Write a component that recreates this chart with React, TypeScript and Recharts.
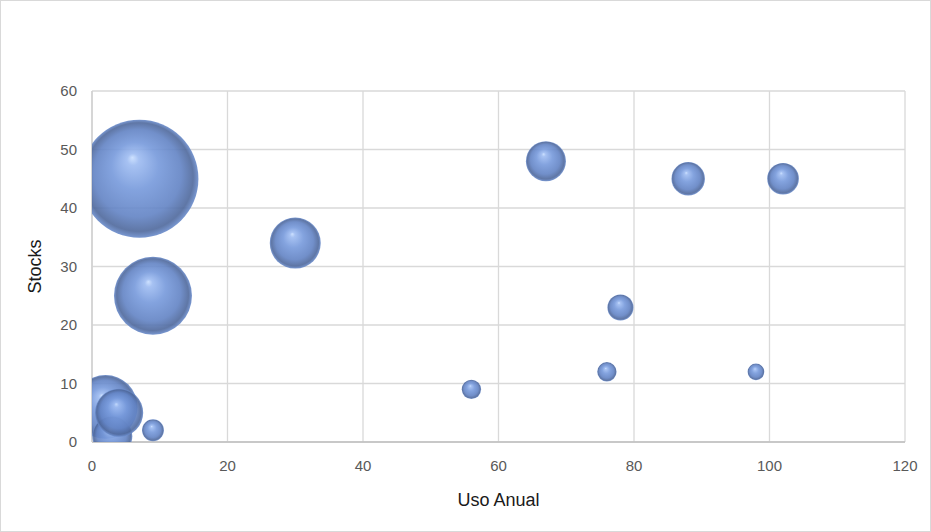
import React from 'react';
import { ScatterChart, Scatter, XAxis, YAxis, ZAxis, CartesianGrid } from 'recharts';

// Uso Anual (x), Stocks (y), bubble size (z)
const usoAnual = [7, 9, 2, 30, 3, 4, 67, 88, 102, 78, 9, 56, 76, 98];
const stocks = [45, 25, 6, 34, 1, 5, 48, 45, 45, 23, 2, 9, 12, 12];
const tamano = [348, 152, 102, 65, 40, 58, 40, 28, 25, 17, 12, 9.4, 9.4, 7];

const xTicks = [0, 20, 40, 60, 80, 100, 120];
const yTicks = [0, 10, 20, 30, 40, 50, 60];

const data = usoAnual.map((x, i) => ({ x, y: stocks[i], z: tamano[i] }));

const MAX_R = 59;

const Bubble = (props: any) => {
  const { cx, cy, width, index } = props;
  const r = width / 2;
  const id = `bubble-grad-${index}`;
  return (
    <g>
      <defs>
        <radialGradient id={id} cx="50%" cy="50%" r="50%" fx="44%" fy="32%">
          <stop offset="0%" stopColor="#c8deff" />
          <stop offset="10%" stopColor="#9dbbf1" />
          <stop offset="40%" stopColor="#7699db" />
          <stop offset="74%" stopColor="#6283c4" />
          <stop offset="92%" stopColor="#4e689c" />
          <stop offset="100%" stopColor="#6a8ccc" />
        </radialGradient>
      </defs>
      <circle cx={cx} cy={cy} r={r} fill={`url(#${id})`} fillOpacity={0.9} />
    </g>
  );
};

const tickStyle = { fontFamily: '"Liberation Sans", Arial, sans-serif', fontSize: 15, fill: '#595959' };

export default function App() {
  return (
    <div
      style={{
        position: 'absolute',
        left: 0,
        top: 0,
        width: 931,
        height: 532,
        boxSizing: 'border-box',
        border: '1px solid #d9d9d9',
        background: '#fff',
      }}
    >
      <ScatterChart
        width={929}
        height={530}
        margin={{ top: 90, right: 25, bottom: 25, left: 41 }}
      >
        <CartesianGrid stroke="#d9d9d9" strokeWidth={1.3} />
        <XAxis
          type="number"
          dataKey="x"
          domain={[0, 120]}
          ticks={xTicks}
          allowDataOverflow
          height={64}
          tickSize={0}
          tickMargin={18}
          tick={tickStyle}
          axisLine={{ stroke: '#bfbfbf', strokeWidth: 1.3 }}
          label={{
            value: 'Uso Anual',
            position: 'insideBottom',
            offset: 0,
            style: { fontFamily: '"Liberation Sans", Arial, sans-serif', fontSize: 18, fill: '#1a1a1a' },
          }}
        />
        <YAxis
          type="number"
          dataKey="y"
          domain={[0, 60]}
          ticks={yTicks}
          allowDataOverflow
          width={50}
          tickSize={0}
          tickMargin={15}
          tick={tickStyle}
          axisLine={{ stroke: '#d0d0d0', strokeWidth: 1.5 }}
          label={{
            value: 'Stocks',
            angle: -90,
            position: 'left',
            offset: 7,
            style: { fontFamily: '"Liberation Sans", Arial, sans-serif', fontSize: 18, fill: '#1a1a1a', textAnchor: 'middle' },
          }}
        />
        <ZAxis type="number" dataKey="z" domain={[0, 348]} range={[0, Math.PI * MAX_R * MAX_R]} />
        <Scatter data={data} shape={<Bubble />} isAnimationActive={false} />
      </ScatterChart>
    </div>
  );
}
